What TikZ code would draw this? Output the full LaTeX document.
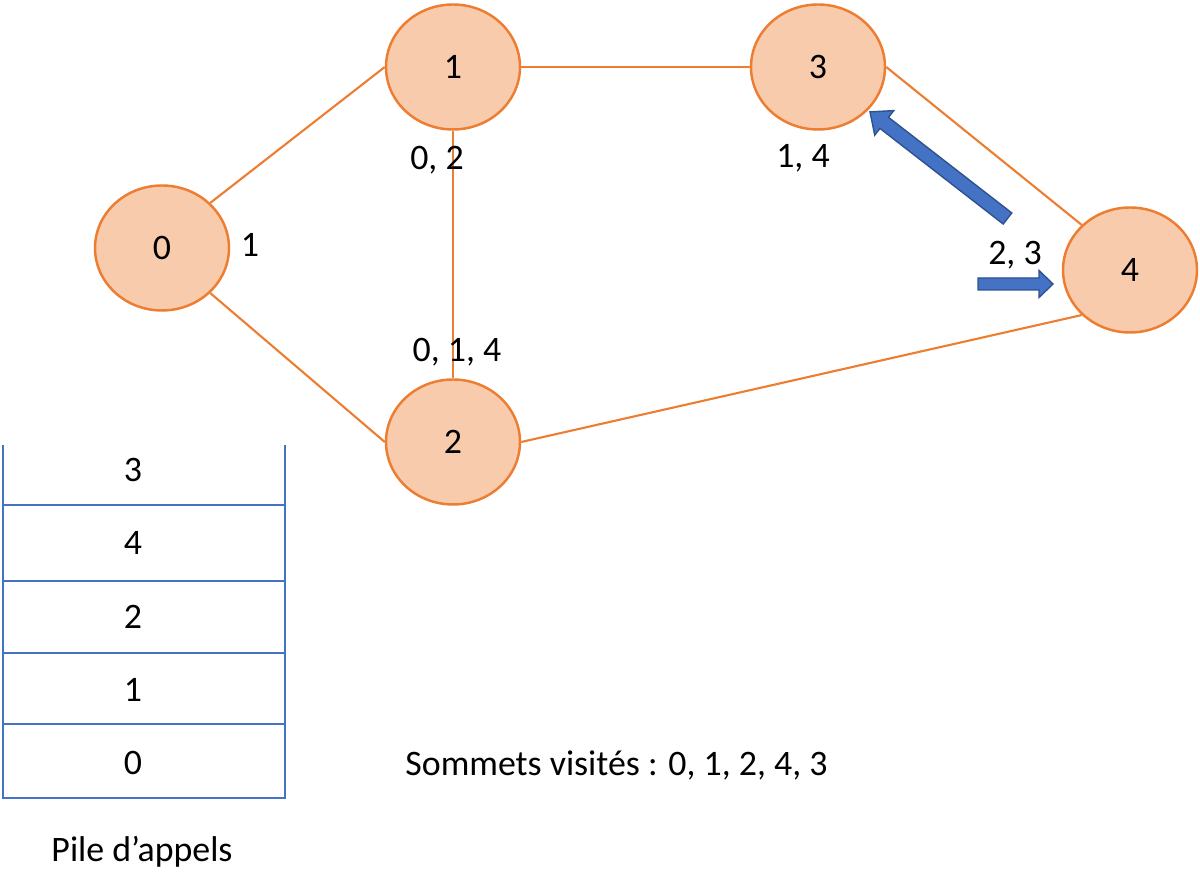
\documentclass[tikz,border=0pt]{standalone}
\usepackage{fontspec}
\setmainfont{Carlito}
\usetikzlibrary{shapes.geometric}

\definecolor{sommetfond}{HTML}{F8CBAD}
\definecolor{sommetbord}{HTML}{ED7D31}
\definecolor{pilebleu}{HTML}{4472C4}
\definecolor{flechebord}{HTML}{2F528F}

\tikzset{
  sommet/.style = {ellipse, draw = sommetbord, fill = sommetfond, line width = 0.7pt,
    minimum width = 1.34cm, minimum height = 1.25cm, inner sep = 0pt},
  arete/.style = {draw = sommetbord, line width = 0.6pt},
  fleche/.style = {fill = pilebleu, draw = flechebord, line width = 0.4pt},
  pile/.style = {draw = pilebleu, line width = 0.8pt}
}

\begin{document}
\begin{tikzpicture}[font = \fontsize{10.2}{12}\selectfont]
  \useasboundingbox (0, 0) rectangle (12, -8.93);

  \node[sommet] (s0) at (1.62, -2.48) {0};
  \node[sommet] (s1) at (4.53, -0.67) {1};
  \node[sommet] (s2) at (4.53, -4.42) {2};
  \node[sommet] (s3) at (8.18, -0.67) {3};
  \node[sommet] (s4) at (11.30, -2.70) {4};

  \draw[arete] (s0.north east) -- (s1.west);
  \draw[arete] (s0.south east) -- (s2.west);
  \draw[arete] (s1.east) -- (s3.west);
  \draw[arete] (s1.south) -- (s2.north);
  \draw[arete] (s2.east) -- (s4.south west);
  \draw[arete] (s3.east) -- (s4.north west);

  \node (l0) at (2.50, -2.45) {1};
  \node (l1) at (4.37, -1.60) {0, 2};
  \node (l3) at (8.03, -1.58) {1, 4};
  \node (l2) at (4.57, -3.52) {0, 1, 4};
  \node (l4) at (10.15, -2.55) {2, 3};

  \begin{scope}[shift = {(10.075, -2.185)}, rotate = 142.2]
    \draw[fleche] (0, -0.07) -- (1.56, -0.07) -- (1.56, -0.155) -- (1.74, 0)
      -- (1.56, 0.155) -- (1.56, 0.07) -- (0, 0.07) -- cycle;
  \end{scope}
  \draw[fleche] (9.78, -2.78) -- (10.39, -2.78) -- (10.39, -2.705) -- (10.53, -2.84)
    -- (10.39, -2.975) -- (10.39, -2.90) -- (9.78, -2.90) -- cycle;

  \draw[pile] (0.03, -4.45) -- (0.03, -7.98) -- (2.85, -7.98) -- (2.85, -4.45);
  \foreach \y in {5.05, 5.81, 6.53, 7.24}
    \draw[pile] (0.03, -\y) -- (2.85, -\y);
  \foreach \v/\y in {3/4.70, 4/5.43, 2/6.17, 1/6.90, 0/7.63}
    \node (p\v) at (1.33, -\y) {\v};

  \node (titre) at (1.42, -8.52) {Pile d’appels};
  \node[anchor = west] (visites) at (3.93, -7.65) {Sommets visités : 0, 1, 2, 4, 3};
\end{tikzpicture}
\end{document}
